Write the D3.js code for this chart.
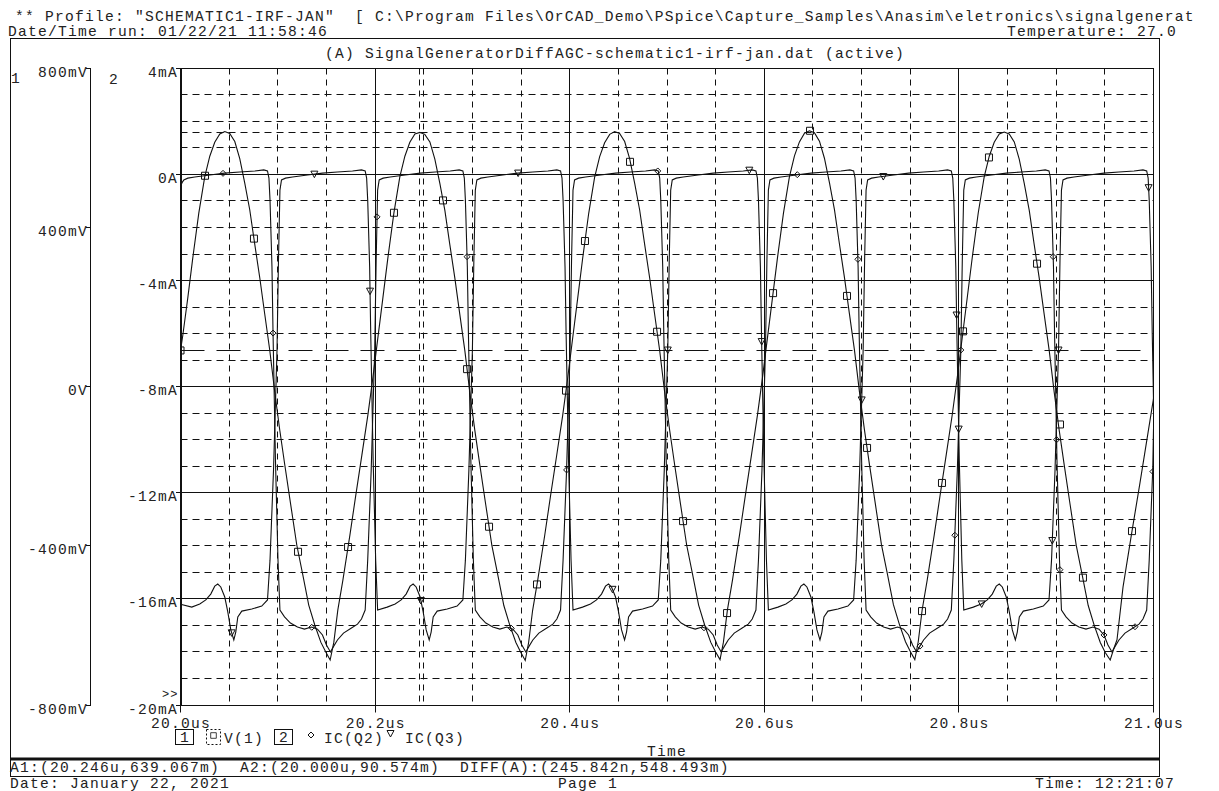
<!DOCTYPE html>
<html>
<head>
<meta charset="utf-8">
<script src="https://cdn.jsdelivr.net/npm/d3@7"></script>
<style>
body { margin: 0; background: #fff; }
text { font-family: "Courier New", "Liberation Mono", monospace; font-size: 14.6px; letter-spacing: 1.24px; fill: #222; white-space: pre; }
</style>
</head>
<body>
<svg id="plot" width="1219" height="791"></svg>
<script>
// ---- values ----
var timeTicks = [20.0, 20.2, 20.4, 20.6, 20.8, 21.0];
var timeLabels = ["20.0us", "20.2us", "20.4us", "20.6us", "20.8us", "21.0us"];
var voltTicks = [800, 400, 0, -400, -800];
var voltLabels = ["800mV", "400mV", "0V", "-400mV", "-800mV"];
var currTicks = [4, 0, -4, -8, -12, -16, -20];
var currLabels = ["4mA", "0A", "-4mA", "-8mA", "-12mA", "-16mA", "-20mA"];

var cursorA1 = [20.246, 639.067];
var cursorA2 = [20.000, 90.574];

var headerLines = [
  '** Profile: "SCHEMATIC1-IRF-JAN"  [ C:\\Program Files\\OrCAD_Demo\\PSpice\\Capture_Samples\\Anasim\\eletronics\\signalgenerat',
  'Date/Time run: 01/22/21 11:58:46',
  'Temperature: 27.0',
  '(A) SignalGeneratorDiffAGC-schematic1-irf-jan.dat (active)'
];
var footerLines = [
  'A1:(20.246u,639.067m)  A2:(20.000u,90.574m)  DIFF(A):(245.842n,548.493m)',
  'Date: January 22, 2021',
  'Page 1',
  'Time: 12:21:07'
];

// V(1) in mV
var v1 = [
[20.0000,90.6],[20.0023,128],[20.0075,223],[20.0126,323],[20.0188,436],[20.0249,527],[20.0301,579],[20.0352,614],[20.0404,635],[20.0455,641],
[20.0506,636],[20.0558,616],[20.0609,573],[20.0661,511],[20.0712,444],[20.0763,358],[20.0815,273],[20.0866,182],[20.0917,92],[20.0969,-14],[20.1020,-109],[20.1072,-197],[20.1133,-297],[20.1195,-398],[20.1257,-473],[20.1318,-549],[20.1380,-599],[20.1442,-642],[20.1493,-667],[20.1538,-687],
[20.1576,-642],[20.1617,-561],[20.1669,-486],[20.1741,-373],[20.1802,-272],[20.1864,-172],[20.1926,-71],[20.1977,22],[20.2028,122],[20.2080,223],[20.2131,323],[20.2193,436],[20.2254,527],[20.2306,579],[20.2357,614],[20.2409,635],[20.2460,639],
[20.2511,634],[20.2563,615],[20.2614,572],[20.2666,510],[20.2717,443],[20.2768,357],[20.2820,272],[20.2871,181],[20.2922,91],[20.2974,-15],[20.3025,-110],[20.3077,-198],[20.3138,-298],[20.3200,-399],[20.3262,-474],[20.3323,-550],[20.3385,-600],[20.3447,-643],[20.3498,-668],[20.3543,-688],
[20.3578,-643],[20.3619,-562],[20.3671,-487],[20.3743,-374],[20.3804,-273],[20.3866,-173],[20.3928,-72],[20.3979,21],[20.4030,121],[20.4082,222],[20.4133,322],[20.4195,435],[20.4256,526],[20.4308,578],[20.4359,613],[20.4411,634],[20.4462,641],
[20.4513,636],[20.4565,616],[20.4616,573],[20.4668,511],[20.4719,444],[20.4770,358],[20.4822,273],[20.4873,182],[20.4924,92],[20.4976,-14],[20.5027,-109],[20.5079,-197],[20.5140,-297],[20.5202,-398],[20.5264,-473],[20.5325,-549],[20.5387,-599],[20.5449,-642],[20.5500,-667],[20.5545,-686],
[20.5580,-642],[20.5621,-561],[20.5673,-486],[20.5745,-373],[20.5806,-272],[20.5868,-172],[20.5930,-71],[20.5981,22],[20.6032,122],[20.6084,223],[20.6135,323],[20.6197,436],[20.6258,527],[20.6310,580],[20.6361,615],[20.6413,637],[20.6464,643],
[20.6515,638],[20.6567,617],[20.6618,574],[20.6670,512],[20.6721,445],[20.6772,359],[20.6824,274],[20.6875,183],[20.6926,93],[20.6978,-13],[20.7029,-108],[20.7081,-196],[20.7142,-296],[20.7204,-397],[20.7266,-472],[20.7327,-548],[20.7389,-598],[20.7451,-641],[20.7502,-666],[20.7547,-686],
[20.7582,-641],[20.7623,-560],[20.7675,-485],[20.7747,-372],[20.7808,-271],[20.7870,-171],[20.7932,-70],[20.7983,23],[20.8034,123],[20.8086,224],[20.8137,324],[20.8199,437],[20.8260,527],[20.8312,579],[20.8363,614],[20.8415,635],[20.8466,640],
[20.8517,635],[20.8569,615],[20.8620,572],[20.8672,510],[20.8723,443],[20.8774,357],[20.8826,272],[20.8877,181],[20.8928,91],[20.8980,-15],[20.9031,-110],[20.9083,-198],[20.9144,-298],[20.9206,-399],[20.9268,-474],[20.9329,-550],[20.9391,-600],[20.9453,-643],[20.9504,-668],[20.9555,-687],
[20.9590,-660],[20.9625,-636],[20.9687,-503],[20.9779,-363],[20.9861,-242],[20.9943,-117],[21.0000,-30]
];

// IC(Q2) in mA
var icQ2 = [
[20.0000,-0.45],[20.0018,-0.30],[20.0034,-0.21],[20.0075,-0.14],[20.0147,-0.10],[20.0301,-0.02],[20.0455,0.05],[20.0609,0.09],[20.0764,0.13],[20.0856,0.17],
[20.0894,0.13],[20.0909,-0.14],[20.0920,-0.97],[20.0940,-3.49],[20.0951,-5.98],[20.0976,-10.77],[20.1002,-14.54],[20.1022,-16.42],
[20.1069,-16.68],[20.1130,-16.91],[20.1202,-17.06],[20.1274,-17.14],[20.1346,-17.06],[20.1408,-17.14],[20.1459,-17.36],[20.1500,-17.74],[20.1541,-18.00],[20.1572,-17.80],[20.1613,-17.55],[20.1675,-17.29],[20.1757,-17.10],[20.1819,-16.95],[20.1860,-16.76],
[20.1898,-16.42],[20.1924,-14.54],[20.1960,-11.14],[20.1996,-6.62],[20.2011,-3.23],[20.2026,-0.59],[20.2042,-0.21],[20.2083,-0.14],[20.2155,-0.10],[20.2309,-0.02],[20.2463,0.05],[20.2617,0.09],[20.2772,0.13],[20.2864,0.17],
[20.2902,0.13],[20.2917,-0.14],[20.2928,-0.97],[20.2948,-3.49],[20.2959,-5.98],[20.2984,-10.77],[20.3010,-14.54],[20.3030,-16.42],
[20.3077,-16.68],[20.3138,-16.91],[20.3210,-17.06],[20.3282,-17.14],[20.3354,-17.06],[20.3416,-17.14],[20.3467,-17.36],[20.3508,-17.74],[20.3549,-18.00],[20.3580,-17.80],[20.3621,-17.55],[20.3683,-17.29],[20.3765,-17.10],[20.3827,-16.95],[20.3868,-16.76],
[20.3906,-16.42],[20.3932,-14.54],[20.3968,-11.14],[20.4004,-6.62],[20.4019,-3.23],[20.4034,-0.59],[20.4050,-0.21],[20.4091,-0.14],[20.4163,-0.10],[20.4317,-0.02],[20.4471,0.05],[20.4625,0.09],[20.4780,0.13],[20.4872,0.17],
[20.4910,0.13],[20.4925,-0.14],[20.4936,-0.97],[20.4956,-3.49],[20.4967,-5.98],[20.4992,-10.77],[20.5018,-14.54],[20.5038,-16.42],
[20.5085,-16.68],[20.5146,-16.91],[20.5218,-17.06],[20.5290,-17.14],[20.5362,-17.06],[20.5424,-17.14],[20.5475,-17.36],[20.5516,-17.74],[20.5557,-18.00],[20.5588,-17.80],[20.5629,-17.55],[20.5691,-17.29],[20.5773,-17.10],[20.5835,-16.95],[20.5876,-16.76],
[20.5914,-16.42],[20.5940,-14.54],[20.5976,-11.14],[20.6012,-6.62],[20.6027,-3.23],[20.6042,-0.59],[20.6058,-0.21],[20.6099,-0.14],[20.6171,-0.10],[20.6325,-0.02],[20.6479,0.05],[20.6633,0.09],[20.6788,0.13],[20.6880,0.17],
[20.6918,0.13],[20.6933,-0.14],[20.6944,-0.97],[20.6964,-3.49],[20.6975,-5.98],[20.7000,-10.77],[20.7026,-14.54],[20.7046,-16.42],
[20.7093,-16.68],[20.7154,-16.91],[20.7226,-17.06],[20.7298,-17.14],[20.7370,-17.06],[20.7432,-17.14],[20.7483,-17.36],[20.7524,-17.74],[20.7565,-18.00],[20.7596,-17.80],[20.7637,-17.55],[20.7699,-17.29],[20.7781,-17.10],[20.7843,-16.95],[20.7884,-16.76],
[20.7922,-16.42],[20.7948,-14.54],[20.7984,-11.14],[20.8020,-6.62],[20.8035,-3.23],[20.8050,-0.59],[20.8066,-0.21],[20.8107,-0.14],[20.8179,-0.10],[20.8333,-0.02],[20.8487,0.05],[20.8641,0.09],[20.8796,0.13],[20.8888,0.17],
[20.8926,0.13],[20.8941,-0.14],[20.8952,-0.97],[20.8972,-3.49],[20.8983,-5.98],[20.9008,-10.77],[20.9034,-14.54],[20.9054,-16.42],
[20.9101,-16.68],[20.9162,-16.91],[20.9234,-17.06],[20.9306,-17.14],[20.9378,-17.06],[20.9440,-17.14],[20.9491,-17.36],[20.9532,-17.74],[20.9573,-18.00],[20.9604,-17.80],[20.9645,-17.55],[20.9707,-17.29],[20.9789,-17.10],[20.9851,-16.95],[20.9892,-16.76],
[20.9930,-16.42],[20.9956,-14.54],[20.9992,-11.14],[21.0000,-9.6]
];

// IC(Q3) in mA
var icQ3 = [
[20.0000,-16.20],[20.0116,-16.31],[20.0198,-16.19],[20.0260,-16.04],[20.0311,-15.82],[20.0352,-15.52],[20.0383,-15.44],[20.0414,-15.55],[20.0455,-15.93],[20.0486,-16.49],[20.0517,-17.17],[20.0548,-17.55],[20.0568,-17.25],[20.0589,-16.68],[20.0630,-16.46],[20.0733,-16.38],[20.0835,-16.27],
[20.0894,-16.04],[20.0920,-14.54],[20.0956,-11.14],[20.0992,-6.62],[20.1007,-3.23],[20.1022,-0.59],[20.1038,-0.21],[20.1079,-0.14],[20.1151,-0.10],[20.1305,-0.02],[20.1459,0.05],[20.1613,0.09],[20.1768,0.13],[20.1860,0.17],
[20.1898,0.13],[20.1913,-0.14],[20.1924,-0.97],[20.1944,-3.49],[20.1955,-5.98],[20.1980,-10.77],[20.2006,-14.54],[20.2026,-16.42],
[20.2124,-16.31],[20.2206,-16.19],[20.2268,-16.04],[20.2319,-15.82],[20.2360,-15.52],[20.2391,-15.44],[20.2422,-15.55],[20.2463,-15.93],[20.2494,-16.49],[20.2525,-17.17],[20.2556,-17.55],[20.2576,-17.25],[20.2597,-16.68],[20.2638,-16.46],[20.2741,-16.38],[20.2843,-16.27],
[20.2902,-16.04],[20.2928,-14.54],[20.2964,-11.14],[20.3000,-6.62],[20.3015,-3.23],[20.3030,-0.59],[20.3046,-0.21],[20.3087,-0.14],[20.3159,-0.10],[20.3313,-0.02],[20.3467,0.05],[20.3621,0.09],[20.3776,0.13],[20.3868,0.17],
[20.3906,0.13],[20.3921,-0.14],[20.3932,-0.97],[20.3952,-3.49],[20.3963,-5.98],[20.3988,-10.77],[20.4014,-14.54],[20.4034,-16.42],
[20.4132,-16.31],[20.4214,-16.19],[20.4276,-16.04],[20.4327,-15.82],[20.4368,-15.52],[20.4399,-15.44],[20.4430,-15.55],[20.4471,-15.93],[20.4502,-16.49],[20.4533,-17.17],[20.4564,-17.55],[20.4584,-17.25],[20.4605,-16.68],[20.4646,-16.46],[20.4749,-16.38],[20.4851,-16.27],
[20.4910,-16.04],[20.4936,-14.54],[20.4972,-11.14],[20.5008,-6.62],[20.5023,-3.23],[20.5038,-0.59],[20.5054,-0.21],[20.5095,-0.14],[20.5167,-0.10],[20.5321,-0.02],[20.5475,0.05],[20.5629,0.09],[20.5784,0.13],[20.5876,0.17],
[20.5914,0.13],[20.5929,-0.14],[20.5940,-0.97],[20.5960,-3.49],[20.5971,-5.98],[20.5996,-10.77],[20.6022,-14.54],[20.6042,-16.42],
[20.6140,-16.31],[20.6222,-16.19],[20.6284,-16.04],[20.6335,-15.82],[20.6376,-15.52],[20.6407,-15.44],[20.6438,-15.55],[20.6479,-15.93],[20.6510,-16.49],[20.6541,-17.17],[20.6572,-17.55],[20.6592,-17.25],[20.6613,-16.68],[20.6654,-16.46],[20.6757,-16.38],[20.6859,-16.27],
[20.6918,-16.04],[20.6944,-14.54],[20.6980,-11.14],[20.7016,-6.62],[20.7031,-3.23],[20.7046,-0.59],[20.7062,-0.21],[20.7103,-0.14],[20.7175,-0.10],[20.7329,-0.02],[20.7483,0.05],[20.7637,0.09],[20.7792,0.13],[20.7884,0.17],
[20.7922,0.13],[20.7937,-0.14],[20.7948,-0.97],[20.7968,-3.49],[20.7979,-5.98],[20.8004,-10.77],[20.8030,-14.54],[20.8050,-16.42],
[20.8148,-16.31],[20.8230,-16.19],[20.8292,-16.04],[20.8343,-15.82],[20.8384,-15.52],[20.8415,-15.44],[20.8446,-15.55],[20.8487,-15.93],[20.8518,-16.49],[20.8549,-17.17],[20.8580,-17.55],[20.8600,-17.25],[20.8621,-16.68],[20.8662,-16.46],[20.8765,-16.38],[20.8867,-16.27],
[20.8926,-16.04],[20.8952,-14.54],[20.8988,-11.14],[20.9024,-6.62],[20.9039,-3.23],[20.9054,-0.59],[20.9070,-0.21],[20.9111,-0.14],[20.9183,-0.10],[20.9337,-0.02],[20.9491,0.05],[20.9645,0.09],[20.9800,0.13],[20.9892,0.17],
[20.9930,0.13],[20.9945,-0.14],[20.9956,-0.97],[20.9976,-3.49],[20.9987,-5.98],[21.0000,-8.5]
];

// marker positions (time, value) as seen on the printout
var v1Marks = [[20.0000,91],[20.0252,530],[20.0755,372],[20.1208,-415],[20.1722,-403],[20.2194,437],[20.2698,468],[20.2945,44],[20.3171,-352],[20.3664,-497],[20.3962,-10],[20.4157,366],[20.4620,565],[20.4898,138],[20.5165,-338],[20.5617,-569],[20.6090,235],[20.6470,643],[20.6850,228],[20.7056,-154],[20.7621,-564],[20.7826,-242],[20.8042,139],[20.8309,576],[20.8803,309],[20.9039,-95],[20.9275,-480],[20.9779,-363]];
var q2Marks = [[20.0437,0.04],[20.0951,-5.98],[20.1349,-17.07],[20.2020,-1.6],[20.2945,-3.1],[20.3400,-17.11],[20.3968,-11.14],[20.4905,0.13],[20.5380,-17.09],[20.6339,-0.01],[20.6962,-3.2],[20.7600,-17.78],[20.7958,-13.6],[20.8020,-6.62],[20.8969,-3.1],[20.9004,-10.0],[20.9038,-14.9],[20.9491,-17.36],[20.9810,-17.05],[20.9994,-11.2]];
var q3Marks = [[20.0526,-17.28],[20.1376,0.01],[20.1948,-4.4],[20.2470,-16.06],[20.3470,0.05],[20.4440,-15.64],[20.5008,-6.62],[20.5846,0.16],[20.5973,-6.3],[20.7001,-8.5],[20.7223,-0.08],[20.7976,-5.3],[20.7998,-9.6],[20.8234,-16.19],[20.8960,-13.8],[20.9024,-6.62],[20.9950,-0.5]];

// ---- drawing ----
var svg = d3.select('#plot');
var x = d3.scaleLinear().domain([20, 21]).range([180.5, 1153.5]);
var yI = d3.scaleLinear().domain([-20, 4]).range([705, 68.3]);
var yV = d3.scaleLinear().domain([-800, 800]).range([705, 68.3]);
function crisp(v) { return Math.round(v - 0.5) + 0.5; }

var ink = '#111';

function hline(g, y, x1, x2, dash, w) {
  g.append('line').attr('x1', x1).attr('x2', x2).attr('y1', y).attr('y2', y)
    .attr('stroke', ink).attr('stroke-width', w || 1)
    .attr('stroke-dasharray', dash || null);
}
function vline(g, xx, y1, y2, dash, w) {
  g.append('line').attr('x1', xx).attr('x2', xx).attr('y1', y1).attr('y2', y2)
    .attr('stroke', ink).attr('stroke-width', w || 1)
    .attr('stroke-dasharray', dash || null);
}

var frame = svg.append('g');
// page frame
hline(frame, 38.5, 10, 1160);
vline(frame, 10.5, 38, 777);
vline(frame, 1159.5, 38, 777);
hline(frame, 776.5, 10, 1160);
hline(frame, 759, 10, 1160, null, 3);

var plotTop = crisp(yI(4)), plotBot = crisp(yI(-20)), plotLeft = x(20), plotRight = x(21);

// grid
var grid = svg.append('g');
d3.range(-19, 4).forEach(function (mA) {
  var yy = crisp(yI(mA));
  if (mA % 4 === 0) hline(grid, yy, plotLeft, plotRight);
  else hline(grid, yy, plotLeft, plotRight, '7,5');
});
d3.range(1, 20).forEach(function (k) {
  var xx = crisp(x(20 + k * 0.05));
  if (k % 4 === 0) vline(grid, xx, plotTop, plotBot);
  else vline(grid, xx, plotTop, plotBot, '6,5');
});

// cursors
hline(grid, crisp(yV(cursorA1[1])), plotLeft, plotRight, '7,5');
vline(grid, crisp(x(cursorA1[0])), plotTop, plotBot, '6,5');
hline(grid, crisp(yV(cursorA2[1])), plotLeft, plotRight, '24,12');

// plot box
hline(frame, plotTop, plotLeft, plotRight + 0.5);
hline(frame, plotBot, plotLeft, plotRight + 0.5);
vline(frame, crisp(plotRight), plotTop, plotBot);
vline(frame, 181, plotTop, plotBot, null, 2);

// x ticks and labels
timeTicks.forEach(function (t, i) {
  var xx = crisp(x(t));
  vline(frame, xx, plotBot, plotBot + 7);
  frame.append('text').attr('x', x(t) + 0.6).attr('y', 728).attr('text-anchor', 'middle').text(timeLabels[i]);
});
frame.append('text').attr('x', 667).attr('y', 756).attr('text-anchor', 'middle').text('Time');

// axis 2 (current) ticks
currTicks.forEach(function (c, i) {
  var yy = crisp(yI(c));
  hline(frame, yy, 176, 181);
  frame.append('text').attr('x', 178).attr('y', yy + 8).attr('text-anchor', 'end').text(currLabels[i]);
});
// axis 1 (voltage)
vline(frame, 90.5, plotTop, plotBot);
voltTicks.forEach(function (v, i) {
  var yy = crisp(yV(v));
  hline(frame, yy, 86, 91);
  frame.append('text').attr('x', 88).attr('y', yy + 8).attr('text-anchor', 'end').text(voltLabels[i]);
});
frame.append('text').attr('x', 11).attr('y', 83).text('1');
frame.append('text').attr('x', 109).attr('y', 84).text('2');
frame.append('text').attr('x', 162).attr('y', 698).style('font-size', '12px').style('letter-spacing', '1px').text('>>');

// traces
svg.append('clipPath').attr('id', 'clip').append('rect')
  .attr('x', plotLeft).attr('y', plotTop - 1).attr('width', plotRight - plotLeft).attr('height', plotBot - plotTop + 2);
var traces = svg.append('g').attr('clip-path', 'url(#clip)');

var lineV = d3.line().x(d => x(d[0])).y(d => yV(d[1]));
var lineI = d3.line().x(d => x(d[0])).y(d => yI(d[1]));

traces.append('path').datum(v1).attr('d', lineV).attr('fill', 'none').attr('stroke', ink).attr('stroke-width', 1.1);
traces.append('path').datum(icQ2).attr('d', lineI).attr('fill', 'none').attr('stroke', ink).attr('stroke-width', 1.1);
traces.append('path').datum(icQ3).attr('d', lineI).attr('fill', 'none').attr('stroke', ink).attr('stroke-width', 1.1);

var squarePath = 'M-3.5,-3.5H3.5V3.5H-3.5Z';
var diamondPath = 'M0,-3L3,0L0,3L-3,0Z';
var trianglePath = 'M-3.5,-3H3.5L0,3.5Z';

function marks(data, yScale, shape) {
  traces.selectAll(null).data(data).enter().append('path')
    .attr('d', shape)
    .attr('transform', d => 'translate(' + x(d[0]) + ',' + yScale(d[1]) + ')')
    .attr('fill', 'none').attr('stroke', ink).attr('stroke-width', 1);
}
marks(v1Marks, yV, squarePath);
marks(q2Marks, yI, diamondPath);
marks(q3Marks, yI, trianglePath);

// legend
var lg = svg.append('g');
lg.append('rect').attr('x', 175.5).attr('y', 729.5).attr('width', 18).attr('height', 15).attr('fill', 'none').attr('stroke', ink);
lg.append('text').attr('x', 185).attr('y', 742).attr('text-anchor', 'middle').text('1');
lg.append('rect').attr('x', 206.5).attr('y', 729.5).attr('width', 14).attr('height', 15).attr('fill', 'none').attr('stroke', ink).attr('stroke-dasharray', '2,2');
lg.append('path').attr('d', squarePath).attr('transform', 'translate(213.5,735.5) scale(0.8)').attr('fill', 'none').attr('stroke', ink);
lg.append('text').attr('x', 224).attr('y', 743).text('V(1)');
lg.append('rect').attr('x', 274.5).attr('y', 729.5).attr('width', 18).attr('height', 15).attr('fill', 'none').attr('stroke', ink);
lg.append('text').attr('x', 284).attr('y', 742).attr('text-anchor', 'middle').text('2');
lg.append('path').attr('d', diamondPath).attr('transform', 'translate(311,735)').attr('fill', 'none').attr('stroke', ink);
lg.append('text').attr('x', 324).attr('y', 743).text('IC(Q2)');
lg.append('path').attr('d', trianglePath).attr('transform', 'translate(390.5,733.5)').attr('fill', 'none').attr('stroke', ink);
lg.append('text').attr('x', 405).attr('y', 743).text('IC(Q3)');

// header & footer text
svg.append('text').attr('x', 15).attr('y', 21).text(headerLines[0]);
svg.append('text').attr('x', 8).attr('y', 36).text(headerLines[1]);
svg.append('text').attr('x', 1177).attr('y', 36).attr('text-anchor', 'end').text(headerLines[2]);
svg.append('text').attr('x', 615).attr('y', 58).attr('text-anchor', 'middle').text(headerLines[3]);

svg.append('text').attr('x', 10).attr('y', 772).text(footerLines[0]);
svg.append('text').attr('x', 10).attr('y', 788).text(footerLines[1]);
svg.append('text').attr('x', 558).attr('y', 788).text(footerLines[2]);
svg.append('text').attr('x', 1035).attr('y', 788).text(footerLines[3]);
</script>
</body>
</html>
